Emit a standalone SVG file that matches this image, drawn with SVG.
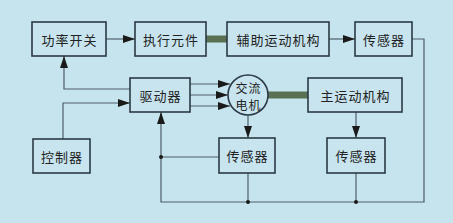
<svg xmlns="http://www.w3.org/2000/svg" width="453" height="223" viewBox="0 0 453 223">
<defs>
<marker id="ah" viewBox="0 0 12 8" refX="12" refY="4" markerWidth="12" markerHeight="8" markerUnits="userSpaceOnUse" orient="auto">
<path d="M0,0 L12,4 L0,8 Z" fill="#1a1a1a"/>
</marker>
<style>
.box{fill:#c8e5ef;stroke:#2b3a44;stroke-width:1.6}
.t{font-family:"Noto Sans CJK SC","Noto Sans CJK JP",sans-serif;font-size:13px;letter-spacing:1px;fill:#222;text-anchor:middle;dominant-baseline:central}
.c{font-family:"Noto Sans CJK SC","Noto Sans CJK JP",sans-serif;font-size:12px;letter-spacing:1px;fill:#222;text-anchor:middle;dominant-baseline:central}
.ln{fill:none;stroke:#4e5e68;stroke-width:1.2}
.bar{stroke:#5a7052;stroke-width:7}
.dot{fill:#1a1a1a}
</style>
</defs>
<rect width="453" height="223" fill="#c6e4ee"/>
<g id="connectors">
<line class="bar" x1="206" y1="39" x2="227" y2="39"/>
<line class="bar" x1="268" y1="95" x2="308" y2="95"/>
<line class="ln" x1="106" y1="39" x2="135" y2="39" marker-end="url(#ah)"/>
<line class="ln" x1="329" y1="39" x2="355" y2="39" marker-end="url(#ah)"/>
<polyline class="ln" points="412,39 424,39 424,202 161,202 161,112" marker-end="url(#ah)"/>
<polyline class="ln" points="130,89 64,89 64,56" marker-end="url(#ah)"/>
<polyline class="ln" points="63,139 63,103 130,103" marker-end="url(#ah)"/>
<line class="ln" x1="190" y1="84" x2="230" y2="84" marker-end="url(#ah)"/>
<line class="ln" x1="190" y1="95" x2="228" y2="95" marker-end="url(#ah)"/>
<line class="ln" x1="190" y1="106" x2="230" y2="106" marker-end="url(#ah)"/>
<line class="ln" x1="248" y1="115" x2="248" y2="138" marker-end="url(#ah)"/>
<line class="ln" x1="356" y1="112" x2="356" y2="138" marker-end="url(#ah)"/>
<line class="ln" x1="219" y1="157" x2="161" y2="157"/>
<line class="ln" x1="248" y1="173" x2="248" y2="202"/>
<line class="ln" x1="356" y1="173" x2="356" y2="202"/>
<circle class="dot" cx="161" cy="157" r="2"/>
<circle class="dot" cx="248" cy="202" r="2"/>
<circle class="dot" cx="356" cy="202" r="2"/>
</g>
<g id="power-switch"><rect class="box" x="32" y="22" width="74" height="34"/><text class="t" x="69.5" y="39">功率开关</text></g>
<g id="actuator"><rect class="box" x="135" y="22" width="71" height="34"/><text class="t" x="171" y="39">执行元件</text></g>
<g id="aux-mechanism"><rect class="box" x="227" y="22" width="102" height="34"/><text class="t" x="278.5" y="39">辅助运动机构</text></g>
<g id="sensor-top"><rect class="box" x="355" y="22" width="57" height="34"/><text class="t" x="384" y="39">传感器</text></g>
<g id="driver"><rect class="box" x="130" y="78" width="60" height="34"/><text class="t" x="160.5" y="95">驱动器</text></g>
<g id="ac-motor"><circle class="box" cx="248" cy="95" r="20"/><text class="c" x="248.5" y="87">交流</text><text class="c" x="248.5" y="104">电机</text></g>
<g id="main-mechanism"><rect class="box" x="308" y="78" width="94" height="34"/><text class="t" x="355.5" y="95">主运动机构</text></g>
<g id="controller"><rect class="box" x="33" y="139" width="57" height="34"/><text class="t" x="62" y="156">控制器</text></g>
<g id="sensor-mid"><rect class="box" x="219" y="138" width="56" height="35"/><text class="t" x="247.5" y="155.5">传感器</text></g>
<g id="sensor-right"><rect class="box" x="327" y="138" width="58" height="35"/><text class="t" x="356.5" y="155.5">传感器</text></g>
</svg>
